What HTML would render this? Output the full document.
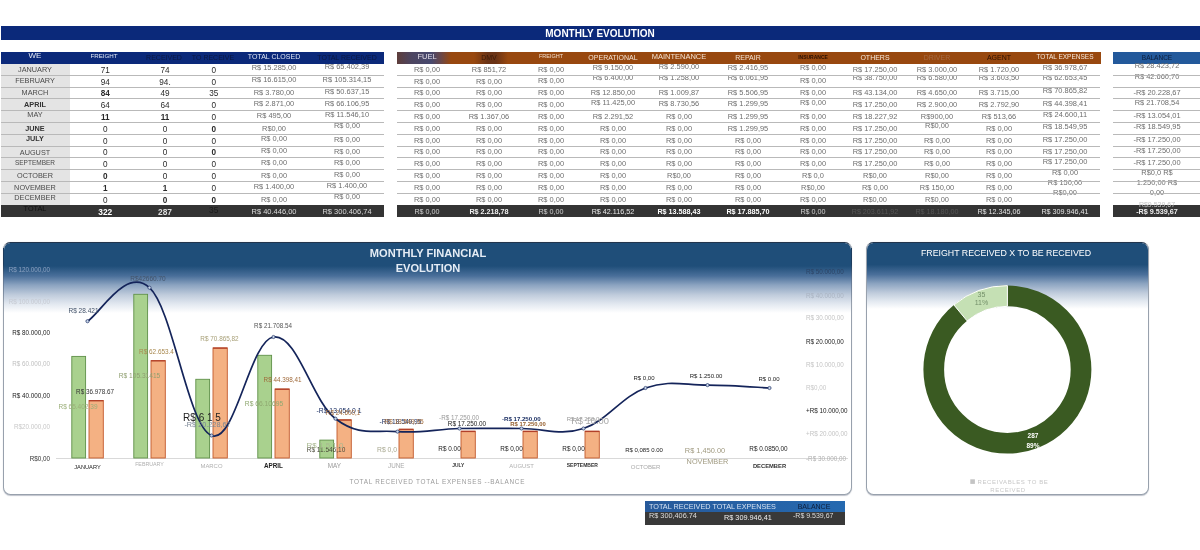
<!DOCTYPE html>
<html><head><meta charset="utf-8"><title>Monthly Evolution</title>
<style>
html,body{margin:0;padding:0;background:#fff;}
body{width:1200px;height:550px;position:relative;overflow:hidden;font-family:"Liberation Sans",Arial,sans-serif;}
.a{position:absolute;}
.c{position:absolute;white-space:nowrap;transform:translate(-50%,-50%);line-height:1;}
.ln{position:absolute;height:1px;background:#b9b9b9;}
.v{font-size:7.45px;color:#6e6e6e;}
.n{font-size:8.2px;color:#2a2a2a;}
.m{font-size:7.3px;color:#4a4a4a;}
.panel{position:absolute;border:1px solid #98a1ad;border-top-color:#22354d;border-radius:7.5px;box-sizing:border-box;overflow:hidden;background:#fff;box-shadow:0 0.5px 1px rgba(110,120,140,.45);}
</style></head><body>

<div class="a" style="left:1px;top:25.5px;width:1199px;height:14.5px;background:#0b297a;"></div>
<div class="c" style="left:600px;top:34.1px;font-size:10px;font-weight:bold;color:#fff;">MONTHLY EVOLUTION</div>
<div class="a" style="left:1px;top:52px;width:383px;height:11.5px;background:#0b297a;"></div>
<div class="c" style="left:35px;top:55.9px;font-size:8px;color:#e8ecf5;font-weight:normal;">WE</div>
<div class="c" style="left:104px;top:55.9px;font-size:6.2px;color:#dfe6f5;font-weight:normal;">FREIGHT</div>
<div class="c" style="left:164px;top:56.9px;font-size:7px;color:#0a1740;font-weight:normal;">RECEIVED</div>
<div class="c" style="left:213px;top:56.9px;font-size:7px;color:#0a1740;font-weight:normal;">TO RECEIVE</div>
<div class="c" style="left:274px;top:55.9px;font-size:7px;color:#dfe6f5;font-weight:normal;">TOTAL CLOSED</div>
<div class="c" style="left:347px;top:56.9px;font-size:7px;color:#0a1740;font-weight:normal;">TOTAL RECEIVED</div>
<div class="a" style="left:1px;top:63.5px;width:68.5px;height:141.60000000000002px;background:#e4e4e4;"></div>
<div class="a" style="left:396.5px;top:52px;width:704px;height:11.6px;background:linear-gradient(90deg,#5e3d3a 0px,#4d4560 14px,#47486e 34px,#6a4748 44px,#98480f 54px,#98480f 100%);"></div>
<div class="a" style="left:474px;top:52px;width:34px;height:11.6px;background:linear-gradient(90deg,rgba(50,25,30,0) 0,rgba(50,25,30,.45) 40%,rgba(50,25,30,.45) 65%,rgba(50,25,30,0) 100%);"></div>
<div class="c" style="left:427px;top:57.4px;font-size:7.5px;color:#e6e0ea;font-weight:normal;">FUEL</div>
<div class="c" style="left:489px;top:57.4px;font-size:7px;color:#3a1a08;font-weight:normal;">DMV</div>
<div class="c" style="left:551px;top:57.4px;font-size:5.5px;color:#f0dccc;font-weight:normal;">FREIGHT</div>
<div class="c" style="left:613px;top:57.4px;font-size:7px;color:#f3e2d3;font-weight:normal;">OPERATIONAL</div>
<div class="c" style="left:679px;top:57.4px;font-size:7.5px;color:#f3e2d3;font-weight:normal;">MAINTENANCE</div>
<div class="c" style="left:748px;top:57.4px;font-size:7px;color:#f3e2d3;font-weight:normal;">REPAIR</div>
<div class="c" style="left:813px;top:57.4px;font-size:5px;color:#2a0f02;font-weight:bold;">INSURANCE</div>
<div class="c" style="left:875px;top:57.4px;font-size:7px;color:#f6e8dc;font-weight:normal;">OTHERS</div>
<div class="c" style="left:937px;top:57.4px;font-size:7px;color:#a56a45;font-weight:normal;">DRIVER</div>
<div class="c" style="left:999px;top:57.4px;font-size:7px;color:#2a0f02;font-weight:normal;">AGENT</div>
<div class="c" style="left:1065px;top:57.4px;font-size:6.5px;color:#f6e8dc;font-weight:normal;">TOTAL EXPENSES</div>
<div class="a" style="left:1113px;top:52px;width:87px;height:11.6px;background:#23599b;"></div>
<div class="c" style="left:1157px;top:57.8px;font-size:6.5px;color:#0c1d3a;">BALANCE</div>
<div class="c m" style="left:35px;top:70.0px;font-size:7.3px;">JANUARY</div>
<div class="c n" style="left:105.3px;top:70.8px;">71</div>
<div class="c n" style="left:165px;top:70.8px;">74</div>
<div class="c n" style="left:213.7px;top:70.8px;">0</div>
<div class="c v" style="left:274px;top:67.7px;">R$ 15.285,00</div>
<div class="c v" style="left:347px;top:66.7px;">R$ 65.402,39</div>
<div class="c v" style="left:427px;top:69.7px;">R$ 0,00</div>
<div class="c v" style="left:489px;top:69.7px;">R$ 851,72</div>
<div class="c v" style="left:551px;top:69.7px;">R$ 0,00</div>
<div class="c v" style="left:613px;top:68.4px;">R$ 9.150,00</div>
<div class="c v" style="left:679px;top:67.0px;">R$ 2.590,00</div>
<div class="c v" style="left:748px;top:68.0px;">R$ 2.416,95</div>
<div class="c v" style="left:813px;top:68.4px;">R$ 0,00</div>
<div class="c v" style="left:875px;top:69.7px;">R$ 17.250,00</div>
<div class="c v" style="left:937px;top:69.7px;">R$ 3.000,00</div>
<div class="c v" style="left:999px;top:69.7px;">R$ 1.720,00</div>
<div class="c v" style="left:1065px;top:68.1px;">R$ 36.978,67</div>
<div class="c v" style="left:1157px;top:66.2px;">R$ 28.423,72</div>
<div class="c m" style="left:35px;top:81.3px;font-size:7.3px;">FEBRUARY</div>
<div class="c n" style="left:105.3px;top:82.6px;">94</div>
<div class="c n" style="left:165px;top:82.6px;">94.</div>
<div class="c n" style="left:213.7px;top:82.6px;">0</div>
<div class="c v" style="left:274px;top:79.5px;">R$ 16.615,00</div>
<div class="c v" style="left:347px;top:79.5px;">R$ 105.314,15</div>
<div class="c v" style="left:427px;top:81.5px;">R$ 0,00</div>
<div class="c v" style="left:489px;top:81.5px;">R$ 0,00</div>
<div class="c v" style="left:551px;top:80.5px;">R$ 0,00</div>
<div class="c v" style="left:613px;top:78.0px;">R$ 6.400,00</div>
<div class="c v" style="left:679px;top:78.0px;">R$ 1.258,00</div>
<div class="c v" style="left:748px;top:78.0px;">R$ 6.061,95</div>
<div class="c v" style="left:813px;top:80.5px;">R$ 0,00</div>
<div class="c v" style="left:875px;top:78.0px;">R$ 38.750,00</div>
<div class="c v" style="left:937px;top:78.0px;">R$ 6.580,00</div>
<div class="c v" style="left:999px;top:78.0px;">R$ 3.603,50</div>
<div class="c v" style="left:1065px;top:77.5px;">R$ 62.653,45</div>
<div class="c v" style="left:1157px;top:76.5px;">R$ 42.660,70</div>
<div class="ln" style="left:1px;top:74.8px;width:383px;"></div>
<div class="ln" style="left:397px;top:74.8px;width:703px;"></div>
<div class="ln" style="left:1113px;top:74.8px;width:87px;"></div>
<div class="c m" style="left:35px;top:93.1px;font-size:7.3px;">MARCH</div>
<div class="c n" style="left:105.3px;top:94.4px;"><b>84</b></div>
<div class="c n" style="left:165px;top:94.4px;">49</div>
<div class="c n" style="left:213.7px;top:94.4px;">35</div>
<div class="c v" style="left:274px;top:93.3px;">R$ 3.780,00</div>
<div class="c v" style="left:347px;top:91.8px;">R$ 50.637,15</div>
<div class="c v" style="left:427px;top:93.3px;">R$ 0,00</div>
<div class="c v" style="left:489px;top:93.3px;">R$ 0,00</div>
<div class="c v" style="left:551px;top:93.3px;">R$ 0,00</div>
<div class="c v" style="left:613px;top:93.3px;">R$ 12.850,00</div>
<div class="c v" style="left:679px;top:93.3px;">R$ 1.009,87</div>
<div class="c v" style="left:748px;top:93.3px;">R$ 5.506,95</div>
<div class="c v" style="left:813px;top:93.3px;">R$ 0,00</div>
<div class="c v" style="left:875px;top:93.3px;">R$ 43.134,00</div>
<div class="c v" style="left:937px;top:93.3px;">R$ 4.650,00</div>
<div class="c v" style="left:999px;top:93.3px;">R$ 3.715,00</div>
<div class="c v" style="left:1065px;top:90.6px;">R$ 70.865,82</div>
<div class="c v" style="left:1157px;top:93.3px;">-R$ 20.228,67</div>
<div class="ln" style="left:1px;top:86.6px;width:383px;"></div>
<div class="ln" style="left:397px;top:86.6px;width:703px;"></div>
<div class="ln" style="left:1113px;top:86.6px;width:87px;"></div>
<div class="c m" style="left:35px;top:105.2px;font-size:7.3px;font-weight:bold;color:#333;">APRIL</div>
<div class="c n" style="left:105.3px;top:106.2px;">64</div>
<div class="c n" style="left:165px;top:106.2px;">64</div>
<div class="c n" style="left:213.7px;top:106.2px;">0</div>
<div class="c v" style="left:274px;top:104.1px;">R$ 2.871,00</div>
<div class="c v" style="left:347px;top:104.1px;">R$ 66.106,95</div>
<div class="c v" style="left:427px;top:105.1px;">R$ 0,00</div>
<div class="c v" style="left:489px;top:105.1px;">R$ 0,00</div>
<div class="c v" style="left:551px;top:105.1px;">R$ 0,00</div>
<div class="c v" style="left:613px;top:103.4px;">R$ 11.425,00</div>
<div class="c v" style="left:679px;top:104.1px;">R$ 8.730,56</div>
<div class="c v" style="left:748px;top:104.1px;">R$ 1.299,95</div>
<div class="c v" style="left:813px;top:103.4px;">R$ 0,00</div>
<div class="c v" style="left:875px;top:105.1px;">R$ 17.250,00</div>
<div class="c v" style="left:937px;top:105.1px;">R$ 2.900,00</div>
<div class="c v" style="left:999px;top:105.1px;">R$ 2.792,90</div>
<div class="c v" style="left:1065px;top:103.7px;">R$ 44.398,41</div>
<div class="c v" style="left:1157px;top:103.1px;">R$ 21.708,54</div>
<div class="ln" style="left:1px;top:98.4px;width:383px;"></div>
<div class="ln" style="left:397px;top:98.4px;width:703px;"></div>
<div class="ln" style="left:1113px;top:98.4px;width:87px;"></div>
<div class="c m" style="left:35px;top:115.4px;font-size:7.3px;">MAY</div>
<div class="c n" style="left:105.3px;top:118.0px;"><b>11</b></div>
<div class="c n" style="left:165px;top:118.0px;"><b>11</b></div>
<div class="c n" style="left:213.7px;top:118.0px;">0</div>
<div class="c v" style="left:274px;top:115.9px;">R$ 495,00</div>
<div class="c v" style="left:347px;top:114.9px;">R$ 11.546,10</div>
<div class="c v" style="left:427px;top:116.9px;">R$ 0,00</div>
<div class="c v" style="left:489px;top:116.9px;">R$ 1.367,06</div>
<div class="c v" style="left:551px;top:116.9px;">R$ 0,00</div>
<div class="c v" style="left:613px;top:116.9px;">R$ 2.291,52</div>
<div class="c v" style="left:679px;top:116.9px;">R$ 0,00</div>
<div class="c v" style="left:748px;top:116.9px;">R$ 1.299,95</div>
<div class="c v" style="left:813px;top:116.9px;">R$ 0,00</div>
<div class="c v" style="left:875px;top:116.9px;">R$ 18.227,92</div>
<div class="c v" style="left:937px;top:116.9px;">R$900,00</div>
<div class="c v" style="left:999px;top:116.9px;">R$ 513,66</div>
<div class="c v" style="left:1065px;top:115.4px;">R$ 24.600,11</div>
<div class="c v" style="left:1157px;top:116.1px;">-R$ 13.054,01</div>
<div class="ln" style="left:1px;top:110.2px;width:383px;"></div>
<div class="ln" style="left:397px;top:110.2px;width:703px;"></div>
<div class="ln" style="left:1113px;top:110.2px;width:87px;"></div>
<div class="c m" style="left:35px;top:128.5px;font-size:7.3px;font-weight:bold;color:#333;">JUNE</div>
<div class="c n" style="left:105.3px;top:129.8px;">0</div>
<div class="c n" style="left:165px;top:129.8px;">0</div>
<div class="c n" style="left:213.7px;top:129.8px;"><b>0</b></div>
<div class="c v" style="left:274px;top:128.7px;">R$0,00</div>
<div class="c v" style="left:347px;top:126.4px;">R$ 0,00</div>
<div class="c v" style="left:427px;top:128.7px;">R$ 0,00</div>
<div class="c v" style="left:489px;top:128.7px;">R$ 0,00</div>
<div class="c v" style="left:551px;top:128.7px;">R$ 0,00</div>
<div class="c v" style="left:613px;top:128.7px;">R$ 0,00</div>
<div class="c v" style="left:679px;top:128.7px;">R$ 0,00</div>
<div class="c v" style="left:748px;top:128.7px;">R$ 1.299,95</div>
<div class="c v" style="left:813px;top:128.7px;">R$ 0,00</div>
<div class="c v" style="left:875px;top:128.7px;">R$ 17.250,00</div>
<div class="c v" style="left:937px;top:125.7px;">R$0,00</div>
<div class="c v" style="left:999px;top:128.7px;">R$ 0,00</div>
<div class="c v" style="left:1065px;top:127.4px;">R$ 18.549,95</div>
<div class="c v" style="left:1157px;top:127.4px;">-R$ 18.549,95</div>
<div class="ln" style="left:1px;top:122.0px;width:383px;"></div>
<div class="ln" style="left:397px;top:122.0px;width:703px;"></div>
<div class="ln" style="left:1113px;top:122.0px;width:87px;"></div>
<div class="c m" style="left:35px;top:138.6px;font-size:7.3px;font-weight:bold;color:#333;">JULY</div>
<div class="c n" style="left:105.3px;top:141.6px;">0</div>
<div class="c n" style="left:165px;top:141.6px;">0</div>
<div class="c n" style="left:213.7px;top:141.6px;">0</div>
<div class="c v" style="left:274px;top:138.5px;">R$ 0,00</div>
<div class="c v" style="left:347px;top:139.8px;">R$ 0,00</div>
<div class="c v" style="left:427px;top:140.5px;">R$ 0,00</div>
<div class="c v" style="left:489px;top:140.5px;">R$ 0,00</div>
<div class="c v" style="left:551px;top:140.5px;">R$ 0,00</div>
<div class="c v" style="left:613px;top:140.5px;">R$ 0,00</div>
<div class="c v" style="left:679px;top:140.5px;">R$ 0,00</div>
<div class="c v" style="left:748px;top:140.5px;">R$ 0,00</div>
<div class="c v" style="left:813px;top:140.5px;">R$ 0,00</div>
<div class="c v" style="left:875px;top:140.5px;">R$ 17.250,00</div>
<div class="c v" style="left:937px;top:140.5px;">R$ 0,00</div>
<div class="c v" style="left:999px;top:140.5px;">R$ 0,00</div>
<div class="c v" style="left:1065px;top:139.5px;">R$ 17.250,00</div>
<div class="c v" style="left:1157px;top:140.1px;">-R$ 17.250,00</div>
<div class="ln" style="left:1px;top:133.8px;width:383px;"></div>
<div class="ln" style="left:397px;top:133.8px;width:703px;"></div>
<div class="ln" style="left:1113px;top:133.8px;width:87px;"></div>
<div class="c m" style="left:35px;top:153.4px;font-size:7.3px;">AUGUST</div>
<div class="c n" style="left:105.3px;top:153.4px;">0</div>
<div class="c n" style="left:165px;top:153.4px;">0</div>
<div class="c n" style="left:213.7px;top:153.4px;"><b>0</b></div>
<div class="c v" style="left:274px;top:150.8px;">R$ 0,00</div>
<div class="c v" style="left:347px;top:151.6px;">R$ 0,00</div>
<div class="c v" style="left:427px;top:152.3px;">R$ 0,00</div>
<div class="c v" style="left:489px;top:152.3px;">R$ 0,00</div>
<div class="c v" style="left:551px;top:152.3px;">R$ 0,00</div>
<div class="c v" style="left:613px;top:152.3px;">R$ 0,00</div>
<div class="c v" style="left:679px;top:152.3px;">R$ 0,00</div>
<div class="c v" style="left:748px;top:152.3px;">R$ 0,00</div>
<div class="c v" style="left:813px;top:152.3px;">R$ 0,00</div>
<div class="c v" style="left:875px;top:152.3px;">R$ 17.250,00</div>
<div class="c v" style="left:937px;top:152.3px;">R$ 0,00</div>
<div class="c v" style="left:999px;top:152.3px;">R$ 0,00</div>
<div class="c v" style="left:1065px;top:151.7px;">R$ 17.250,00</div>
<div class="c v" style="left:1157px;top:151.4px;">-R$ 17.250,00</div>
<div class="ln" style="left:1px;top:145.6px;width:383px;"></div>
<div class="ln" style="left:397px;top:145.6px;width:703px;"></div>
<div class="ln" style="left:1113px;top:145.6px;width:87px;"></div>
<div class="c m" style="left:35px;top:163.1px;font-size:6.5px;">SEPTEMBER</div>
<div class="c n" style="left:105.3px;top:165.2px;">0</div>
<div class="c n" style="left:165px;top:165.2px;">0</div>
<div class="c n" style="left:213.7px;top:165.2px;">0</div>
<div class="c v" style="left:274px;top:162.6px;">R$ 0,00</div>
<div class="c v" style="left:347px;top:163.1px;">R$ 0,00</div>
<div class="c v" style="left:427px;top:164.1px;">R$ 0,00</div>
<div class="c v" style="left:489px;top:164.1px;">R$ 0,00</div>
<div class="c v" style="left:551px;top:164.1px;">R$ 0,00</div>
<div class="c v" style="left:613px;top:164.1px;">R$ 0,00</div>
<div class="c v" style="left:679px;top:164.1px;">R$ 0,00</div>
<div class="c v" style="left:748px;top:164.1px;">R$ 0,00</div>
<div class="c v" style="left:813px;top:164.1px;">R$ 0,00</div>
<div class="c v" style="left:875px;top:164.1px;">R$ 17.250,00</div>
<div class="c v" style="left:937px;top:164.1px;">R$ 0,00</div>
<div class="c v" style="left:999px;top:164.1px;">R$ 0,00</div>
<div class="c v" style="left:1065px;top:162.1px;">R$ 17.250,00</div>
<div class="c v" style="left:1157px;top:163.4px;">-R$ 17.250,00</div>
<div class="ln" style="left:1px;top:157.4px;width:383px;"></div>
<div class="ln" style="left:397px;top:157.4px;width:703px;"></div>
<div class="ln" style="left:1113px;top:157.4px;width:87px;"></div>
<div class="c m" style="left:35px;top:175.9px;font-size:7.3px;">OCTOBER</div>
<div class="c n" style="left:105.3px;top:177.0px;"><b>0</b></div>
<div class="c n" style="left:165px;top:177.0px;">0</div>
<div class="c n" style="left:213.7px;top:177.0px;">0</div>
<div class="c v" style="left:274px;top:175.9px;">R$ 0,00</div>
<div class="c v" style="left:347px;top:174.9px;">R$ 0,00</div>
<div class="c v" style="left:427px;top:175.9px;">R$ 0,00</div>
<div class="c v" style="left:489px;top:175.9px;">R$ 0,00</div>
<div class="c v" style="left:551px;top:175.9px;">R$ 0,00</div>
<div class="c v" style="left:613px;top:175.9px;">R$ 0,00</div>
<div class="c v" style="left:679px;top:175.9px;">R$0,00</div>
<div class="c v" style="left:748px;top:175.9px;">R$ 0,00</div>
<div class="c v" style="left:813px;top:175.9px;">R$ 0,0</div>
<div class="c v" style="left:875px;top:175.9px;">R$0,00</div>
<div class="c v" style="left:937px;top:175.9px;">R$0,00</div>
<div class="c v" style="left:999px;top:175.9px;">R$ 0,00</div>
<div class="c v" style="left:1065px;top:173.1px;">R$ 0,00</div>
<div class="c v" style="left:1157px;top:173.1px;">R$0,0 R$</div>
<div class="ln" style="left:1px;top:169.2px;width:383px;"></div>
<div class="ln" style="left:397px;top:169.2px;width:703px;"></div>
<div class="ln" style="left:1113px;top:169.2px;width:87px;"></div>
<div class="c m" style="left:35px;top:187.5px;font-size:7.3px;">NOVEMBER</div>
<div class="c n" style="left:105.3px;top:188.8px;"><b>1</b></div>
<div class="c n" style="left:165px;top:188.8px;"><b>1</b></div>
<div class="c n" style="left:213.7px;top:188.8px;">0</div>
<div class="c v" style="left:274px;top:186.7px;">R$ 1.400,00</div>
<div class="c v" style="left:347px;top:185.7px;">R$ 1.400,00</div>
<div class="c v" style="left:427px;top:187.7px;">R$ 0,00</div>
<div class="c v" style="left:489px;top:187.7px;">R$ 0,00</div>
<div class="c v" style="left:551px;top:187.7px;">R$ 0,00</div>
<div class="c v" style="left:613px;top:187.7px;">R$ 0,00</div>
<div class="c v" style="left:679px;top:187.7px;">R$ 0,00</div>
<div class="c v" style="left:748px;top:187.7px;">R$ 0,00</div>
<div class="c v" style="left:813px;top:187.7px;">R$0,00</div>
<div class="c v" style="left:875px;top:187.7px;">R$ 0,00</div>
<div class="c v" style="left:937px;top:187.7px;">R$ 150,00</div>
<div class="c v" style="left:999px;top:187.7px;">R$ 0,00</div>
<div class="c v" style="left:1065px;top:183.2px;">R$ 150,00</div>
<div class="c v" style="left:1157px;top:183.2px;">1.250,00 R$</div>
<div class="ln" style="left:1px;top:181.0px;width:383px;"></div>
<div class="ln" style="left:397px;top:181.0px;width:703px;"></div>
<div class="ln" style="left:1113px;top:181.0px;width:87px;"></div>
<div class="c m" style="left:35px;top:198.3px;font-size:7.3px;">DECEMBER</div>
<div class="c n" style="left:105.3px;top:200.6px;">0</div>
<div class="c n" style="left:165px;top:200.6px;"><b>0</b></div>
<div class="c n" style="left:213.7px;top:200.6px;"><b>0</b></div>
<div class="c v" style="left:274px;top:199.5px;">R$ 0,00</div>
<div class="c v" style="left:347px;top:197.2px;">R$ 0,00</div>
<div class="c v" style="left:427px;top:199.5px;">R$ 0,00</div>
<div class="c v" style="left:489px;top:199.5px;">R$ 0,00</div>
<div class="c v" style="left:551px;top:199.5px;">R$ 0,00</div>
<div class="c v" style="left:613px;top:199.5px;">R$ 0,00</div>
<div class="c v" style="left:679px;top:199.5px;">R$ 0,00</div>
<div class="c v" style="left:748px;top:199.5px;">R$ 0,00</div>
<div class="c v" style="left:813px;top:199.5px;">R$ 0,00</div>
<div class="c v" style="left:875px;top:199.5px;">R$0,00</div>
<div class="c v" style="left:937px;top:199.5px;">R$0,00</div>
<div class="c v" style="left:999px;top:199.5px;">R$ 0,00</div>
<div class="c v" style="left:1065px;top:193.0px;">R$0,00</div>
<div class="c v" style="left:1157px;top:193.0px;">0,00</div>
<div class="ln" style="left:1px;top:192.8px;width:383px;"></div>
<div class="ln" style="left:397px;top:192.8px;width:703px;"></div>
<div class="ln" style="left:1113px;top:192.8px;width:87px;"></div>
<div class="a" style="left:1px;top:205.4px;width:383px;height:11.7px;background:#343434;"></div>
<div class="a" style="left:397px;top:205.4px;width:703px;height:11.7px;background:#343434;"></div>
<div class="a" style="left:1113px;top:205.4px;width:87px;height:11.7px;background:#343434;"></div>
<div class="c" style="left:1157px;top:203.6px;font-size:7px;color:#c4c4c4;">R$9.539,67</div>
<div class="c" style="left:35px;top:209.1px;font-size:7.3px;color:#111;">TOTAL</div>
<div class="c" style="left:105.3px;top:211.7px;font-size:8.4px;color:#fff;font-weight:bold;">322</div>
<div class="c" style="left:165px;top:211.7px;font-size:8.4px;color:#ddd;font-weight:bold;">287</div>
<div class="c" style="left:213.7px;top:210.2px;font-size:8.4px;color:#1a1a1a;font-weight:normal;">35</div>
<div class="c" style="left:274px;top:211.7px;font-size:7.5px;color:#ddd;font-weight:normal;">R$ 40.446,00</div>
<div class="c" style="left:347px;top:211.7px;font-size:7.5px;color:#d8d8d8;font-weight:normal;">R$ 300.406,74</div>
<div class="c" style="left:427px;top:211.7px;font-size:7.2px;color:#d0d0d0;font-weight:normal;">R$ 0,00</div>
<div class="c" style="left:489px;top:211.7px;font-size:7.2px;color:#f0f0f0;font-weight:bold;">R$ 2.218,78</div>
<div class="c" style="left:551px;top:211.7px;font-size:7.2px;color:#d0d0d0;font-weight:normal;">R$ 0,00</div>
<div class="c" style="left:613px;top:211.7px;font-size:7.2px;color:#e8e8e8;font-weight:normal;">R$ 42.116,52</div>
<div class="c" style="left:679px;top:211.7px;font-size:7.2px;color:#fff;font-weight:bold;">R$ 13.588,43</div>
<div class="c" style="left:748px;top:211.7px;font-size:7.2px;color:#fff;font-weight:bold;">R$ 17.885,70</div>
<div class="c" style="left:813px;top:211.7px;font-size:7.2px;color:#d0d0d0;font-weight:normal;">R$ 0,00</div>
<div class="c" style="left:875px;top:211.7px;font-size:7.2px;color:#555;font-weight:normal;">R$ 203.611,92</div>
<div class="c" style="left:937px;top:211.7px;font-size:7.2px;color:#555;font-weight:normal;">R$ 18.180,00</div>
<div class="c" style="left:999px;top:211.7px;font-size:7.2px;color:#e4e4e4;font-weight:normal;">R$ 12.345,06</div>
<div class="c" style="left:1065px;top:211.7px;font-size:7.2px;color:#e4e4e4;font-weight:normal;">R$ 309.946,41</div>
<div class="c" style="left:1157px;top:211.7px;font-size:7.2px;color:#eee;font-weight:bold;">-R$ 9.539,67</div>
<div class="panel" style="left:3px;top:242px;width:849px;height:253.2px;"><div class="a" style="left:0;top:0;width:100%;height:72px;background:linear-gradient(180deg,#1f4e79 0px,#1f4e79 23px,#4a6f9a 33px,#8ba3c0 42px,#c0ccdc 52px,#e2e8f0 61px,#ffffff 70px);"></div></div>
<div class="a" style="left:3px;top:248px;width:1px;height:56px;background:linear-gradient(180deg,#1c3c5e 0px,#1c3c5e 16px,rgba(60,90,130,.6) 32px,rgba(152,161,173,0) 56px);"></div>
<div class="a" style="left:851px;top:248px;width:1px;height:56px;background:linear-gradient(180deg,#1c3c5e 0px,#1c3c5e 16px,rgba(60,90,130,.6) 32px,rgba(152,161,173,0) 56px);"></div>
<div class="a" style="left:865.5px;top:248px;width:1px;height:56px;background:linear-gradient(180deg,#1c3c5e 0px,#1c3c5e 16px,rgba(60,90,130,.6) 32px,rgba(152,161,173,0) 56px);"></div>
<div class="a" style="left:1148px;top:248px;width:1px;height:56px;background:linear-gradient(180deg,#1c3c5e 0px,#1c3c5e 16px,rgba(60,90,130,.6) 32px,rgba(152,161,173,0) 56px);"></div>
<div class="c" style="left:428px;top:253.5px;font-size:11.1px;font-weight:bold;color:#e4ecf5;">MONTHLY FINANCIAL</div>
<div class="c" style="left:428px;top:268.5px;font-size:11.1px;font-weight:bold;color:#e4ecf5;">EVOLUTION</div>
<svg class="a" style="left:0;top:0;" width="1200" height="550" viewBox="0 0 1200 550" font-family="Liberation Sans, Arial, sans-serif">
<line x1="56" y1="458.5" x2="848" y2="458.5" stroke="#d9d9d9" stroke-width="1"/>
<rect x="71.8" y="356.4" width="13.8" height="101.6" fill="#a9d18e" stroke="#5f9048" stroke-width="0.9"/>
<rect x="89.0" y="400.5" width="14.3" height="57.5" fill="#f4b183" stroke="#c25a2c" stroke-width="0.9"/>
<rect x="89.0" y="400.1" width="14.3" height="1.3" fill="#b2402a"/>
<rect x="133.8" y="294.3" width="13.8" height="163.7" fill="#a9d18e" stroke="#5f9048" stroke-width="0.9"/>
<rect x="151.0" y="360.6" width="14.3" height="97.4" fill="#f4b183" stroke="#c25a2c" stroke-width="0.9"/>
<rect x="151.0" y="360.2" width="14.3" height="1.3" fill="#b2402a"/>
<rect x="195.8" y="379.3" width="13.8" height="78.7" fill="#a9d18e" stroke="#5f9048" stroke-width="0.9"/>
<rect x="213.0" y="347.9" width="14.3" height="110.1" fill="#f4b183" stroke="#c25a2c" stroke-width="0.9"/>
<rect x="213.0" y="347.5" width="14.3" height="1.3" fill="#b2402a"/>
<rect x="257.8" y="355.3" width="13.8" height="102.7" fill="#a9d18e" stroke="#5f9048" stroke-width="0.9"/>
<rect x="275.0" y="389.0" width="14.3" height="69.0" fill="#f4b183" stroke="#c25a2c" stroke-width="0.9"/>
<rect x="275.0" y="388.6" width="14.3" height="1.3" fill="#b2402a"/>
<rect x="319.8" y="440.1" width="13.8" height="17.9" fill="#a9d18e" stroke="#5f9048" stroke-width="0.9"/>
<rect x="337.0" y="419.8" width="14.3" height="38.2" fill="#f4b183" stroke="#c25a2c" stroke-width="0.9"/>
<rect x="337.0" y="419.4" width="14.3" height="1.3" fill="#b2402a"/>
<rect x="399.0" y="429.2" width="14.3" height="28.8" fill="#f4b183" stroke="#c25a2c" stroke-width="0.9"/>
<rect x="399.0" y="428.8" width="14.3" height="1.3" fill="#b2402a"/>
<rect x="461.0" y="431.2" width="14.3" height="26.8" fill="#f4b183" stroke="#c25a2c" stroke-width="0.9"/>
<rect x="461.0" y="430.8" width="14.3" height="1.3" fill="#b2402a"/>
<rect x="523.0" y="431.2" width="14.3" height="26.8" fill="#f4b183" stroke="#c25a2c" stroke-width="0.9"/>
<rect x="523.0" y="430.8" width="14.3" height="1.3" fill="#b2402a"/>
<rect x="585.0" y="431.2" width="14.3" height="26.8" fill="#f4b183" stroke="#c25a2c" stroke-width="0.9"/>
<rect x="585.0" y="430.8" width="14.3" height="1.3" fill="#b2402a"/>
<path d="M87.5,321.2 C99.3,314.8 125.9,266.0 149.5,287.7 C173.1,309.5 187.9,426.2 211.5,435.5 C235.1,444.9 249.9,340.2 273.5,337.0 C297.1,333.8 311.9,400.7 335.5,418.7 C359.1,436.7 373.9,429.7 397.5,431.6 C421.1,433.5 435.9,429.1 459.5,428.5 C483.1,428.0 497.9,428.5 521.5,428.5 C545.1,428.5 559.9,436.2 583.5,428.5 C607.1,420.8 621.9,396.3 645.5,388.0 C669.1,379.7 683.9,385.1 707.5,385.1 C731.1,385.1 757.7,387.4 769.5,388.0" fill="none" stroke="#14245a" stroke-width="1.7" stroke-linecap="round"/>
<circle cx="87.5" cy="321.2" r="1.6" fill="#c9d6ea" stroke="#1b2f63" stroke-width="0.7"/>
<circle cx="149.5" cy="287.7" r="1.6" fill="#c9d6ea" stroke="#1b2f63" stroke-width="0.7"/>
<circle cx="211.5" cy="435.5" r="1.6" fill="#c9d6ea" stroke="#1b2f63" stroke-width="0.7"/>
<circle cx="273.5" cy="337.0" r="1.6" fill="#c9d6ea" stroke="#1b2f63" stroke-width="0.7"/>
<circle cx="335.5" cy="418.7" r="1.6" fill="#c9d6ea" stroke="#1b2f63" stroke-width="0.7"/>
<circle cx="397.5" cy="431.6" r="1.6" fill="#c9d6ea" stroke="#1b2f63" stroke-width="0.7"/>
<circle cx="459.5" cy="428.5" r="1.6" fill="#c9d6ea" stroke="#1b2f63" stroke-width="0.7"/>
<circle cx="521.5" cy="428.5" r="1.6" fill="#c9d6ea" stroke="#1b2f63" stroke-width="0.7"/>
<circle cx="583.5" cy="428.5" r="1.6" fill="#c9d6ea" stroke="#1b2f63" stroke-width="0.7"/>
<circle cx="645.5" cy="388.0" r="1.6" fill="#c9d6ea" stroke="#1b2f63" stroke-width="0.7"/>
<circle cx="707.5" cy="385.1" r="1.6" fill="#c9d6ea" stroke="#1b2f63" stroke-width="0.7"/>
<circle cx="769.5" cy="388.0" r="1.6" fill="#c9d6ea" stroke="#1b2f63" stroke-width="0.7"/>
<text x="50" y="461.1" font-size="6.3" fill="#333" text-anchor="end">R$0,00</text>
<text x="50" y="429.2" font-size="6.3" fill="#c8c8c8" text-anchor="end">R$20.000,00</text>
<text x="50" y="397.8" font-size="6.3" fill="#222" text-anchor="end">R$ 40.000,00</text>
<text x="50" y="366.4" font-size="6.3" fill="#c0c0c0" text-anchor="end">R$ 60.000,00</text>
<text x="50" y="335.0" font-size="6.3" fill="#222" text-anchor="end">R$ 80.000,00</text>
<text x="50" y="304.1" font-size="6.3" fill="#c6cad2" text-anchor="end">R$ 100.000,00</text>
<text x="50" y="272.2" font-size="6.3" fill="#8aa0c0" text-anchor="end">R$ 120.000,00</text>
<text x="806" y="274.3" font-size="6.3" fill="#2c4466">R$ 50.000,00</text>
<text x="806" y="297.6" font-size="6.3" fill="#aab4c2">R$ 40.000,00</text>
<text x="806" y="319.6" font-size="6.3" fill="#c4c4c4">R$ 30.000,00</text>
<text x="806" y="344.3" font-size="6.3" fill="#222">R$ 20.000,00</text>
<text x="806" y="367.3" font-size="6.3" fill="#c4c4c4">R$ 10.000,00</text>
<text x="806" y="390.3" font-size="6.3" fill="#c8c8c8">R$0,00</text>
<text x="806" y="413.3" font-size="6.3" fill="#222">+R$ 10.000,00</text>
<text x="806" y="435.5" font-size="6.3" fill="#c4c4c4">+R$ 20.000,00</text>
<text x="806" y="461.1" font-size="6.3" fill="#b0b0b0">-R$ 30.000,00</text>
<text x="87.5" y="468.6" font-size="5.7" fill="#222" font-weight="normal" text-anchor="middle">JANUARY</text>
<text x="149.5" y="466.3" font-size="5.3" fill="#b0b0b0" font-weight="normal" text-anchor="middle">FEBRUARY</text>
<text x="211.5" y="467.8" font-size="5.9" fill="#b0b0b0" font-weight="normal" text-anchor="middle">MARCO</text>
<text x="273.5" y="468" font-size="6.3" fill="#222" font-weight="bold" text-anchor="middle">APRIL</text>
<text x="334.3" y="468" font-size="6.3" fill="#999" font-weight="normal" text-anchor="middle">MAY</text>
<text x="396.3" y="468" font-size="6.3" fill="#aaa" font-weight="normal" text-anchor="middle">JUNE</text>
<text x="458.3" y="467.2" font-size="4.9" fill="#333" font-weight="bold" text-anchor="middle">JULY</text>
<text x="521.5" y="468" font-size="5.9" fill="#b0b0b0" font-weight="normal" text-anchor="middle">AUGUST</text>
<text x="582.3" y="467.2" font-size="5.0" fill="#333" font-weight="bold" text-anchor="middle">SEPTEMBER</text>
<text x="645.5" y="468.6" font-size="6.0" fill="#aaa" font-weight="normal" text-anchor="middle">OCTOBER</text>
<text x="707.5" y="463.8" font-size="7.3" fill="#a09a80" font-weight="normal" text-anchor="middle">NOVEMBER</text>
<text x="769.5" y="467.6" font-size="5.8" fill="#333" font-weight="bold" text-anchor="middle">DECEMBER</text>
<text x="83.5" y="312.5" font-size="6.5" fill="#44546a" font-weight="normal" text-anchor="middle">R$ 28.421</text>
<text x="148" y="280.5" font-size="6.5" fill="#44546a" font-weight="normal" text-anchor="middle">R$42660.70</text>
<text x="95" y="393.5" font-size="6.3" fill="#333" font-weight="normal" text-anchor="middle">R$ 36.978.67</text>
<text x="78" y="409" font-size="6.5" fill="#9aae78" font-weight="normal" text-anchor="middle">R$ 65.402,39</text>
<text x="156.5" y="354" font-size="6.4" fill="#a8884e" font-weight="normal" text-anchor="middle">R$ 62.653.4</text>
<text x="139.5" y="377.8" font-size="6.6" fill="#8f9f70" font-weight="normal" text-anchor="middle">R$ 105.31415</text>
<text x="219.5" y="341" font-size="6.4" fill="#a8a078" font-weight="normal" text-anchor="middle">R$ 70.865,82</text>
<text x="273" y="328" font-size="6.3" fill="#555" font-weight="normal" text-anchor="middle">R$ 21.708.54</text>
<text x="282.5" y="381.5" font-size="6.3" fill="#a06a3a" font-weight="normal" text-anchor="middle">R$ 44.398,41</text>
<text x="264" y="405.5" font-size="6.7" fill="#8fa870" font-weight="normal" text-anchor="middle">R$ 66.10695</text>
<text x="202" y="420.8" font-size="10" fill="#222" font-weight="normal" text-anchor="middle">R$ 6 1 5</text>
<text x="207.5" y="426.5" font-size="7.3" fill="#7a8694" font-weight="normal" text-anchor="middle">-R$ 20.228,67</text>
<text x="339" y="412.6" font-size="6.8" fill="#1b2f63" font-weight="normal" text-anchor="middle">-R$ 13.054,0 1</text>
<text x="343" y="415" font-size="6.3" fill="#a06a3a" font-weight="normal" text-anchor="middle">R$ 24.600,1</text>
<text x="326" y="451.6" font-size="6.5" fill="#4a4a3a" font-weight="normal" text-anchor="middle">R$ 11.546,10</text>
<text x="325" y="447.5" font-size="8" fill="#a8b890" font-weight="normal" text-anchor="middle">R$ 1.5 1.0</text>
<text x="400.5" y="423.8" font-size="6.6" fill="#1b2f63" font-weight="normal" text-anchor="middle">-R$ 18.549,95</text>
<text x="404" y="423.8" font-size="6.6" fill="#a06a3a" font-weight="normal" text-anchor="middle">R$ 18.549,95</text>
<text x="387" y="451.8" font-size="6.8" fill="#a8a890" font-weight="normal" text-anchor="middle">R$ 0,0</text>
<text x="459" y="419.6" font-size="6.3" fill="#999" font-weight="normal" text-anchor="middle">-R$ 17.250,00</text>
<text x="467" y="426.2" font-size="6.4" fill="#222" font-weight="normal" text-anchor="middle">R$ 17.250.00</text>
<text x="521.3" y="420.6" font-size="6.1" fill="#1b2f63" font-weight="bold" text-anchor="middle">-R$ 17.250,00</text>
<text x="528" y="426.2" font-size="5.9" fill="#96602f" font-weight="bold" text-anchor="middle">R$ 17.250,00</text>
<text x="583" y="421" font-size="6" fill="#999" font-weight="normal" text-anchor="middle">R$ 17.250,0</text>
<text x="590" y="424.3" font-size="9.3" fill="#a8a8a8" font-weight="normal" text-anchor="middle">R$ 10.00</text>
<text x="449.5" y="451.3" font-size="6.4" fill="#222" font-weight="normal" text-anchor="middle">R$ 0.00</text>
<text x="511.5" y="451.3" font-size="6.4" fill="#222" font-weight="normal" text-anchor="middle">R$ 0,00</text>
<text x="573.5" y="451.3" font-size="6.4" fill="#222" font-weight="normal" text-anchor="middle">R$ 0,00</text>
<text x="644" y="380" font-size="6" fill="#222" font-weight="normal" text-anchor="middle">R$ 0,00</text>
<text x="706" y="378" font-size="6" fill="#222" font-weight="normal" text-anchor="middle">R$ 1.250.00</text>
<text x="769" y="381" font-size="6" fill="#222" font-weight="normal" text-anchor="middle">R$ 0.00</text>
<text x="644" y="452" font-size="6" fill="#222" font-weight="normal" text-anchor="middle">R$ 0,085 0.00</text>
<text x="705" y="453.3" font-size="7.4" fill="#a09a80" font-weight="normal" text-anchor="middle">R$ 1,450.00</text>
<text x="768.5" y="451.2" font-size="6.4" fill="#222" font-weight="normal" text-anchor="middle">R$ 0.0850,00</text>
<text x="437.3" y="484.2" font-size="6.4" fill="#9a9a9a" text-anchor="middle" letter-spacing="0.72">TOTAL RECEIVED TOTAL EXPENSES --BALANCE</text>
</svg>
<div class="panel" style="left:865.5px;top:242px;width:283.5px;height:253.2px;"><div class="a" style="left:0;top:0;width:100%;height:68px;background:linear-gradient(180deg,#1f4e79 0px,#1f4e79 21.5px,#4a6f9a 31.5px,#8ba3c0 40.5px,#c0ccdc 50px,#e2e8f0 58px,#ffffff 66px);"></div></div>
<div class="c" style="left:1006px;top:253px;font-size:8.8px;color:#fff;">FREIGHT RECEIVED X TO BE RECEIVED</div>
<svg class="a" style="left:0;top:0;" width="1200" height="550" viewBox="0 0 1200 550" font-family="Liberation Sans, Arial, sans-serif">
<circle cx="1007.4" cy="369.6" r="73.65" fill="none" stroke="#3a5a22" stroke-width="20.700000000000003"/>
<path d="M953.86,304.88 A84,84 0 0 1 1007.40,285.60 L1007.40,306.30 A63.3,63.3 0 0 0 967.05,320.83 Z" fill="#c5e0b4" stroke="#fff" stroke-width="1"/>
<text x="981.5" y="297" font-size="7" fill="#74906a" text-anchor="middle">35</text>
<text x="981.5" y="305" font-size="7" fill="#74906a" text-anchor="middle">11%</text>
<text x="1033" y="437.5" font-size="6.5" fill="#fff" text-anchor="middle" font-weight="bold">287</text>
<text x="1033" y="447.5" font-size="6.5" fill="#fff" text-anchor="middle" font-weight="bold">89%</text>
<rect x="970.3" y="479.3" width="4.6" height="4.6" fill="#c4c4c4"/>
<text x="1013" y="484" font-size="6" fill="#c8c8c8" text-anchor="middle" letter-spacing="0.6">RECEIVABLES TO BE</text>
<text x="1008" y="492" font-size="6" fill="#c8c8c8" text-anchor="middle" letter-spacing="0.6">RECEIVED</text>
</svg>
<div class="a" style="left:645px;top:500.5px;width:200px;height:11.5px;background:linear-gradient(90deg,#27599a,#2569b0);"></div>
<div class="a" style="left:645px;top:512px;width:200px;height:12.5px;background:#393939;"></div>
<div class="a" style="left:649px;top:503px;font-size:7.25px;line-height:1;color:#d6e2f2;white-space:nowrap;">TOTAL RECEIVED TOTAL EXPENSES</div>
<div class="c" style="left:814px;top:505.8px;font-size:7px;color:#0c1d3a;">BALANCE</div>
<div class="a" style="left:649px;top:512.3px;font-size:7.3px;line-height:1;color:#ddd;white-space:nowrap;">R$ 300,406.74</div>
<div class="a" style="left:724px;top:513.8px;font-size:7.3px;line-height:1;color:#eee;white-space:nowrap;">R$ 309.946,41</div>
<div class="a" style="left:793px;top:511.5px;font-size:7px;line-height:1;color:#ddd;white-space:nowrap;">-R$ 9.539,67</div>
</body></html>
